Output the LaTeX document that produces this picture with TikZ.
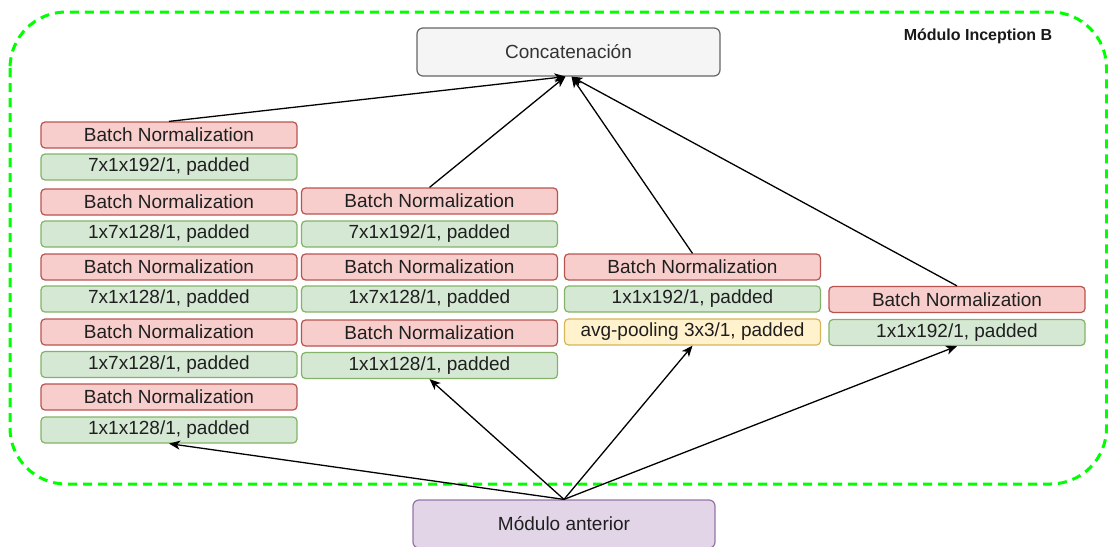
\documentclass[tikz,border=0pt]{standalone}
\usepackage{fontspec}
\setmainfont{Liberation Sans}
\usetikzlibrary{arrows.meta}
\definecolor{bnfill}{HTML}{F8CECC}
\definecolor{bndraw}{HTML}{B85450}
\definecolor{cvfill}{HTML}{D5E8D4}
\definecolor{cvdraw}{HTML}{82B366}
\definecolor{avfill}{HTML}{FFF2CC}
\definecolor{avdraw}{HTML}{D6B656}
\definecolor{ccfill}{HTML}{F5F5F5}
\definecolor{ccdraw}{HTML}{666666}
\definecolor{cctext}{HTML}{333333}
\definecolor{mdfill}{HTML}{E1D5E7}
\definecolor{mddraw}{HTML}{9673A6}
\definecolor{frame}{HTML}{00FF00}
\begin{document}
\begin{tikzpicture}[x=1pt,y=-1pt,
  box/.style={rounded corners=4pt, line width=1.2pt, minimum height=26pt, minimum width=256pt,
    inner sep=0pt, font=\fontsize{19}{22}\selectfont, text=black!88},
  bn/.style={box, fill=bnfill, draw=bndraw},
  cv/.style={box, fill=cvfill, draw=cvdraw},
  av/.style={box, fill=avfill, draw=avdraw},
  big/.style={box, minimum width=303pt, minimum height=48pt, rounded corners=6pt},
  arr/.style={line width=1.3pt, -{Stealth[length=11pt,width=9pt,inset=3pt]}},
  framebox/.style={draw=frame, line width=3pt, dash pattern=on 9pt off 6pt, rounded corners=56pt}
]
\useasboundingbox (0,0) rectangle (1108,546);
\draw[framebox] (10,12) rectangle (1106.5,484);
\node[font=\bfseries\fontsize{16}{18}\selectfont, text=black!90] (title) at (978,36) {Módulo Inception B};

\node[big, fill=ccfill, draw=ccdraw, text=cctext] (concat) at (568.5,52) {Concatenación};
\node[big, fill=mdfill, draw=mddraw, minimum width=302pt] (mod) at (564,524) {Módulo anterior};

% column 1
\node[bn] (a1) at (169,135) {Batch Normalization};
\node[cv] (a2) at (169,167) {7x1x192/1, padded};
\node[bn] (a3) at (169,202) {Batch Normalization};
\node[cv] (a4) at (169,234) {1x7x128/1, padded};
\node[bn] (a5) at (169,267) {Batch Normalization};
\node[cv] (a6) at (169,299) {7x1x128/1, padded};
\node[bn] (a7) at (169,332) {Batch Normalization};
\node[cv] (a8) at (169,364.5) {1x7x128/1, padded};
\node[bn] (a9) at (169,397) {Batch Normalization};
\node[cv] (a10) at (169,430) {1x1x128/1, padded};

% column 2
\node[bn] (b1) at (429.5,201) {Batch Normalization};
\node[cv] (b2) at (429.5,234) {7x1x192/1, padded};
\node[bn] (b3) at (429.5,267) {Batch Normalization};
\node[cv] (b4) at (429.5,299) {1x7x128/1, padded};
\node[bn] (b5) at (429.5,333) {Batch Normalization};
\node[cv] (b6) at (429.5,365.5) {1x1x128/1, padded};

% column 3
\node[bn] (c1) at (692.5,267) {Batch Normalization};
\node[cv] (c2) at (692.5,299) {1x1x192/1, padded};
\node[av] (c3) at (692.5,332) {avg-pooling 3x3/1, padded};

% column 4
\node[bn] (d1) at (957,299.5) {Batch Normalization};
\node[cv] (d2) at (957,332.5) {1x1x192/1, padded};

% arrows
\draw[arr] (mod.north) -- (a10.south);
\draw[arr] (mod.north) -- (b6.south);
\draw[arr] (mod.north) -- (c3.south);
\draw[arr] (mod.north) -- (d2.south);
\draw[arr] (a1.north) -- ([xshift=-3pt]concat.south);
\draw[arr] (b1.north) -- ([xshift=-3pt]concat.south);
\draw[arr] (c1.north) -- ([xshift=3pt]concat.south);
\draw[arr] (d1.north) -- ([xshift=3pt]concat.south);
\end{tikzpicture}
\end{document}
